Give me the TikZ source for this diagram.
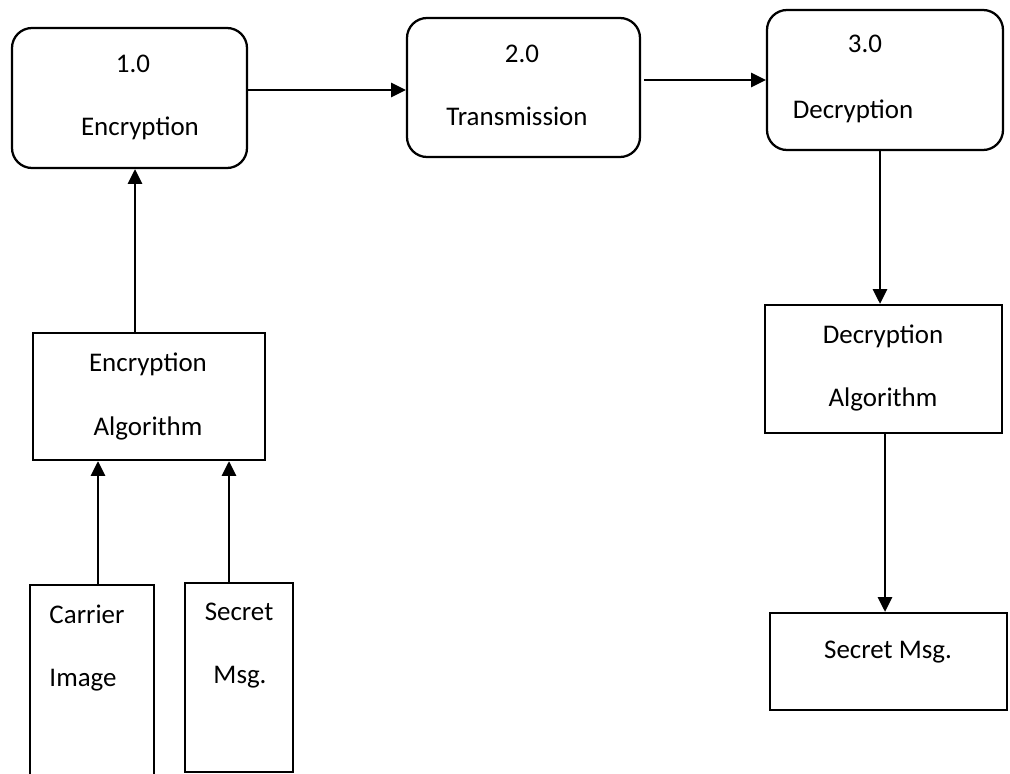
\documentclass[tikz,border=0pt]{standalone}
\usepackage{fontspec}
\setmainfont{Carlito}
\usetikzlibrary{arrows.meta}
\tikzset{
  proc/.style={draw, line width=1.7pt, rounded corners=15pt, inner sep=0pt},
  store/.style={draw, line width=1.7pt, inner sep=0pt},
  lbl/.style={anchor=base, inner sep=0pt, font=\fontsize{20.2}{24}\selectfont},
  flow/.style={line width=1.8pt, -{Triangle[length=11pt,width=10.5pt]}},
}
\begin{document}
\begin{tikzpicture}[x=0.75pt,y=-0.75pt]
\path[use as bounding box, clip] (0,0) rectangle (1010,774);
\fill[white] (0,0) rectangle (1010,774);
% process boxes
\node[proc, minimum width=235*0.75pt, minimum height=140*0.75pt] (p1) at (129.5,98) {};
\node[proc, minimum width=233*0.75pt, minimum height=139*0.75pt] (p2) at (523.5,87.5) {};
\node[proc, minimum width=236*0.75pt, minimum height=140*0.75pt] (p3) at (885,80) {};
% rectangles
\node[store, minimum width=232*0.75pt, minimum height=127*0.75pt] (ea) at (149,396.5) {};
\node[store, minimum width=124*0.75pt, minimum height=215*0.75pt] (ci) at (92,692.5) {};
\node[store, minimum width=108*0.75pt, minimum height=189*0.75pt] (sm) at (239,677.5) {};
\node[store, minimum width=237*0.75pt, minimum height=128*0.75pt] (da) at (883.5,369) {};
\node[store, minimum width=237*0.75pt, minimum height=97*0.75pt] (so) at (888.5,661.5) {};
% texts
\node[lbl] (t1a) at (133,73) {1.0};
\node[lbl] (t1b) at (140,135) {Encryption};
\node[lbl] (t2a) at (522,63) {2.0};
\node[lbl] (t2b) at (517,125) {Transmission};
\node[lbl] (t3a) at (865,53) {3.0};
\node[lbl] (t3b) at (853,118) {Decryption};
\node[lbl] (tea) at (148,371) {Encryption};
\node[lbl] (teb) at (148,435) {Algorithm};
\node[lbl] (tca) at (87,623) {Carrier};
\node[lbl] (tcb) at (83,686) {Image};
\node[lbl] (tsa) at (239,620) {Secret};
\node[lbl] (tsb) at (240,683) {Msg.};
\node[lbl] (tda) at (883,343) {Decryption};
\node[lbl] (tdb) at (883,406) {Algorithm};
\node[lbl] (tso) at (888,658) {Secret Msg.};
% x / y reference coordinates
\coordinate (y90) at (0,90);
\coordinate (y80) at (0,80);
\coordinate (x135) at (135,0);
\coordinate (x98) at (98,0);
\coordinate (x229) at (229,0);
\coordinate (x880) at (880,0);
\coordinate (x885) at (885,0);
% connectors
\draw[flow] (p1.east |- y90) -- (p2.west |- y90);
\draw[flow] ([xshift=2pt]p2.east |- y80) -- (p3.west |- y80);
\draw[flow] (ea.north -| x135) -- (p1.south -| x135);
\draw[flow] (ci.north -| x98) -- (ea.south -| x98);
\draw[flow] (sm.north -| x229) -- (ea.south -| x229);
\draw[flow] (p3.south -| x880) -- (da.north -| x880);
\draw[flow] (da.south -| x885) -- (so.north -| x885);
\end{tikzpicture}
\end{document}
